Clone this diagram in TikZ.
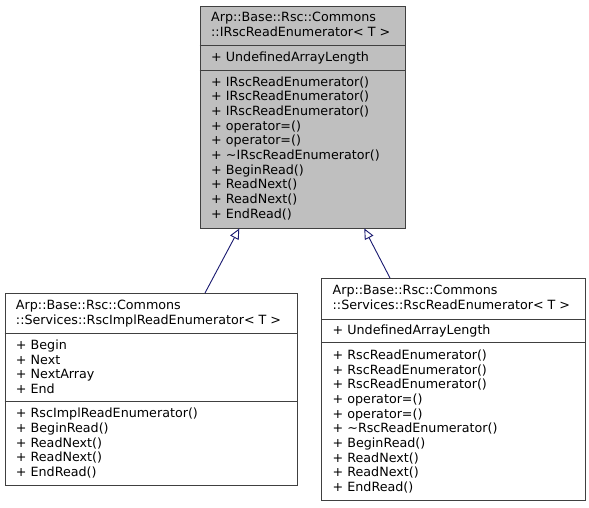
\documentclass[tikz,border=0pt]{standalone}
\usepackage{fontspec}
\setmainfont{DejaVu Sans}
\usetikzlibrary{arrows.meta}
\definecolor{boxgray}{HTML}{BFBFBF}
\definecolor{edgeblue}{HTML}{191970}
\definecolor{border}{HTML}{404040}
\tikzset{
  cls/.style={draw=border, line width=1pt, rectangle, inner sep=0pt, anchor=north west},
  sep/.style={draw=border, line width=1pt},
  txt/.style={anchor=base west, inner sep=0pt, font=\fontsize{12.7}{14.65}\selectfont},
  inherit/.style={draw=edgeblue, line width=0.9pt, -{Triangle[open, length=10.5pt, width=9.5pt, fill=white]}}
}
\newcommand\rowlist[4]{% x, first baseline, prefix, list
  \foreach \t [count=\i] in {#4} {
    \node[txt] (#3\i) at (#1, {#2+(\i-1)*14.65}) {\t};
  }
}
\begin{document}
\begin{tikzpicture}[x=1pt, y=-1pt]
\useasboundingbox (0,0) rectangle (589,507);
\fill[white] (0,0) rectangle (589,507);

% top class
\node[cls, fill=boxgray, minimum width=205, minimum height=222.5] (base) at (199.5,5.5) {};
\draw[sep] (199.5,45.7) -- (404.5,45.7);
\draw[sep] (199.5,70.7) -- (404.5,70.7);
\rowlist{211}{21.9}{bh}{Arp::Base::Rsc::Commons, ::IRscReadEnumerator< T >}
\rowlist{211}{61.9}{ba}{+ UndefinedArrayLength}
\rowlist{211}{86.3}{bm}{+ IRscReadEnumerator(), + IRscReadEnumerator(), + IRscReadEnumerator(), + operator=(), + operator=(), + \textasciitilde IRscReadEnumerator(), + BeginRead(), + ReadNext(), + ReadNext(), + EndRead()}

% left class
\node[cls, fill=white, minimum width=292, minimum height=192] (impl) at (4.5,293) {};
\draw[sep] (4.5,333.3) -- (296.5,333.3);
\draw[sep] (4.5,401.7) -- (296.5,401.7);
\rowlist{15.8}{309.6}{ih}{Arp::Base::Rsc::Commons, ::Services::RscImplReadEnumerator< T >}
\rowlist{15.8}{349.6}{ia}{+ Begin, + Next, + NextArray, + End}
\rowlist{15.8}{417.9}{im}{+ RscImplReadEnumerator(), + BeginRead(), + ReadNext(), + ReadNext(), + EndRead()}

% right class
\node[cls, fill=white, minimum width=263.5, minimum height=222] (rre) at (321,278) {};
\draw[sep] (321,319.3) -- (584.5,319.3);
\draw[sep] (321,342.7) -- (584.5,342.7);
\rowlist{332.5}{294.6}{rh}{Arp::Base::Rsc::Commons, ::Services::RscReadEnumerator< T >}
\rowlist{332.5}{334.6}{ra}{+ UndefinedArrayLength}
\rowlist{332.5}{359.6}{rm}{+ RscReadEnumerator(), + RscReadEnumerator(), + RscReadEnumerator(), + operator=(), + operator=(), + \textasciitilde RscReadEnumerator(), + BeginRead(), + ReadNext(), + ReadNext(), + EndRead()}

% connectors
\coordinate (implTop) at (205,293);
\coordinate (baseL) at (239.3,228.5);
\coordinate (rreTop) at (390,278);
\coordinate (baseR) at (364.3,228.5);
\draw[inherit] (implTop) -- (baseL);
\draw[inherit] (rreTop) -- (baseR);
\end{tikzpicture}
\end{document}
